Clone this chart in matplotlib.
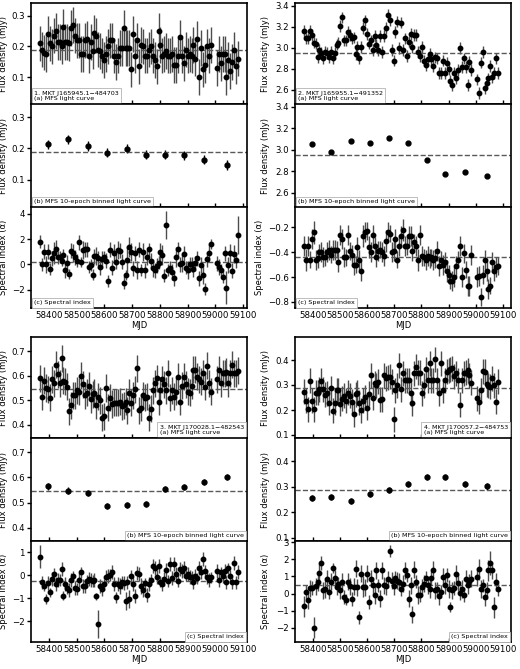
import numpy as np
import matplotlib.pyplot as plt

# observing epochs (MJD), shared by all four sources
mjd = [58368, 58375, 58382, 58389, 58396, 58403, 58410, 58417, 58424, 58431,
       58438, 58445, 58452, 58459, 58466, 58473, 58480, 58487, 58494, 58501,
       58508, 58515, 58522, 58529, 58536, 58543, 58550, 58557, 58564, 58571,
       58578, 58585, 58592, 58599, 58606, 58613, 58620, 58627, 58634, 58641,
       58648, 58655, 58662, 58669, 58676, 58683, 58690, 58697, 58704, 58711,
       58718, 58725, 58732, 58739, 58746, 58753, 58760, 58767, 58774, 58781,
       58788, 58795, 58802, 58809, 58816, 58823, 58830, 58837, 58844, 58851,
       58858, 58865, 58872, 58879, 58886, 58893, 58900, 58907, 58914, 58921,
       58928, 58935, 58942, 58949, 58956, 58963, 58970, 58977, 58984,
       59005, 59012, 59019, 59026, 59033, 59040, 59047, 59054, 59061, 59068, 59075, 59083]

bin_mjd = [58397, 58467, 58540, 58610, 58680, 58749, 58820, 58888, 58960, 59043]

names = ["1. MKT J165945.1\u2212484703", "2. MKT J165955.1\u2212491352",
         "3. MKT J170028.1\u2212482543", "4. MKT J170057.2\u2212484753"]

# ---- source 1
flux1 = [0.21, 0.19, 0.18, 0.175, 0.24, 0.21, 0.2, 0.235, 0.25, 0.215,
         0.215, 0.2, 0.265, 0.215, 0.215, 0.21, 0.26, 0.27, 0.235, 0.22,
         0.22, 0.175, 0.175, 0.22, 0.225, 0.17, 0.215, 0.185, 0.245, 0.235,
         0.19, 0.185, 0.17, 0.155, 0.175, 0.2, 0.22, 0.22, 0.17, 0.15,
         0.17, 0.195, 0.195, 0.26, 0.195, 0.195, 0.195, 0.125, 0.24, 0.17,
         0.22, 0.135, 0.205, 0.2, 0.17, 0.17, 0.19, 0.2, 0.17, 0.155,
         0.135, 0.25, 0.205, 0.17, 0.175, 0.185, 0.17, 0.17, 0.175, 0.14,
         0.14, 0.17, 0.23, 0.17, 0.145, 0.19, 0.17, 0.175, 0.17, 0.205,
         0.16, 0.225, 0.1, 0.195, 0.125, 0.14, 0.2, 0.17, 0.205,
         0.13, 0.175, 0.145, 0.175, 0.175, 0.1, 0.155, 0.12, 0.15, 0.19, 0.135, 0.16]
bin1 = [0.213, 0.229, 0.208, 0.186, 0.199, 0.18, 0.18, 0.178, 0.164, 0.146]
alpha1 = [1.8, 0.0, 1.0, 0.0, 1.0, -0.35, 0.5, 0.9, 1.2, 0.55,
          0.6, 0.3, 0.75, -0.45, 0.15, -0.75, 1.1, 0.9, 0.55, 0.3,
          1.75, 0.2, 1.15, 1.2, 1.2, -0.2, -0.05, -0.8, 0.65, 0.65,
          0.5, -0.2, 0.4, 0.6, 0.3, -1.3, 1.15, -0.25, 0.9, 0.2,
          1.15, 1.1, 0.2, -1.45, -0.85, 0.35, 1.35, 1.0, -0.3, 0.9,
          -0.45, 1.15, -0.45, 1.0, -0.45, 0.55, 1.2, 0.3, -0.3, -0.45,
          -0.1, 0.15, 1.0, 0.75, -0.9, 3.15, -0.45, -0.25, -0.6, -1.1,
          0.6, 1.2, 0.0, 0.1, 0.85, -0.25, -0.45, 0.0, 0.0, -0.4,
          0.1, 0.5, -1.1, -0.05, -0.85, -1.95, 0.4, 0.9, 1.65,
          0.1, -0.2, -0.45, -1.0, 0.9, -1.85, -0.05, 0.9, -0.5, 0.85, 0.35, 2.35]
aerr1 = [0.5, 0.5, 0.6, 0.7, 0.6, 0.5, 0.6, 0.9, 0.7, 0.5,
         0.5, 0.4, 0.5, 0.6, 0.6, 0.4, 0.6, 0.7, 0.6, 0.5,
         0.6, 0.4, 0.7, 0.6, 0.6, 0.5, 0.5, 0.4, 0.6, 0.7,
         0.6, 0.6, 0.7, 0.5, 0.6, 0.5, 0.6, 0.6, 0.7, 0.6,
         0.7, 0.6, 0.6, 0.5, 0.4, 1.1, 0.8, 0.7, 0.6, 0.6,
         0.7, 0.6, 0.5, 0.7, 0.6, 0.6, 0.5, 0.6, 0.7, 0.6,
         0.6, 0.5, 0.7, 0.8, 0.5, 1.1, 0.5, 0.5, 0.6, 0.6,
         0.8, 0.6, 0.6, 0.7, 0.6, 0.5, 0.7, 0.6, 0.6, 0.6,
         0.6, 0.6, 0.6, 0.6, 0.7, 0.5, 0.6, 0.7, 0.4,
         0.6, 0.6, 0.5, 0.5, 0.6, 1.3, 0.6, 0.7, 0.6, 0.7, 0.6, 1.5]

# ---- source 2
flux2 = [3.16, 3.09, 3.09, 3.16, 3.12, 3.05, 3.04, 2.91, 2.98, 2.95,
         2.9, 2.96, 2.95, 2.91, 2.96, 2.9, 2.95, 3.03, 3.05, 3.21,
         3.29, 3.07, 3.07, 3.15, 3.12, 3.09, 3.1, 2.94, 3.01, 2.9,
         3.01, 3.19, 3.26, 3.13, 3.04, 3.07, 2.98, 3.11, 3.03, 2.98,
         3.11, 2.96, 3.11, 3.19, 3.31, 3.26, 2.98, 2.88, 3.15, 3.25,
         3.0, 3.24, 2.98, 3.09, 2.92, 3.06, 3.13, 3.01, 3.12, 3.12,
         2.96, 2.92, 3.01, 2.88, 2.84, 2.89, 2.94, 2.89, 2.83, 2.91,
         2.9, 2.76, 2.76, 2.88, 2.76, 2.86, 2.8, 2.69, 2.65, 2.76,
         2.71, 2.79, 3.0, 2.82, 2.9, 2.82, 2.65, 2.87, 2.79,
         2.7, 2.57, 2.86, 2.96, 2.62, 2.67, 2.71, 2.83, 2.72, 2.76, 2.9, 2.76]
bin2 = [3.055, 2.976, 3.08, 3.067, 3.114, 3.06, 2.9, 2.772, 2.794, 2.753]
alpha2 = [-0.35, -0.46, -0.35, -0.46, -0.29, -0.24, -0.46, -0.45, -0.4, -0.4,
          -0.44, -0.44, -0.4, -0.38, -0.42, -0.38, -0.38, -0.38, -0.48, -0.26,
          -0.29, -0.44, -0.44, -0.26, -0.39, -0.42, -0.5, -0.5, -0.36, -0.46,
          -0.55, -0.27, -0.24, -0.23, -0.36, -0.4, -0.26, -0.35, -0.44, -0.39,
          -0.38, -0.4, -0.43, -0.31, -0.24, -0.25, -0.4, -0.39, -0.29, -0.46,
          -0.35, -0.27, -0.22, -0.35, -0.35, -0.27, -0.27, -0.39, -0.32, -0.35,
          -0.46, -0.26, -0.43, -0.44, -0.46, -0.43, -0.45, -0.44, -0.46, -0.45,
          -0.39, -0.51, -0.46, -0.5, -0.48, -0.55, -0.58, -0.63, -0.63, -0.6,
          -0.51, -0.46, -0.35, -0.6, -0.41, -0.54, -0.67, -0.67, -0.42,
          -0.6, -0.59, -0.76, -0.58, -0.46, -0.55, -0.7, -0.67, -0.48, -0.55, -0.52, -0.51]
aerr2 = [0.08, 0.09, 0.08, 0.07, 0.08, 0.09, 0.08, 0.08, 0.07, 0.08,
         0.08, 0.07, 0.08, 0.08, 0.07, 0.08, 0.08, 0.07, 0.08, 0.08,
         0.08, 0.08, 0.07, 0.08, 0.07, 0.08, 0.08, 0.07, 0.08, 0.08,
         0.08, 0.09, 0.08, 0.07, 0.09, 0.08, 0.08, 0.07, 0.08, 0.08,
         0.07, 0.08, 0.08, 0.09, 0.08, 0.07, 0.08, 0.08, 0.08, 0.07,
         0.08, 0.08, 0.09, 0.08, 0.07, 0.08, 0.08, 0.08, 0.07, 0.08,
         0.09, 0.08, 0.08, 0.07, 0.08, 0.08, 0.08, 0.07, 0.08, 0.08,
         0.08, 0.08, 0.07, 0.08, 0.08, 0.09, 0.08, 0.07, 0.08, 0.08,
         0.08, 0.07, 0.08, 0.08, 0.08, 0.07, 0.08, 0.08, 0.08,
         0.08, 0.08, 0.07, 0.08, 0.08, 0.08, 0.08, 0.07, 0.08, 0.08, 0.08, 0.07]

# ---- source 3
flux3 = [0.59, 0.515, 0.58, 0.55, 0.545, 0.51, 0.585, 0.57, 0.645, 0.605,
         0.57, 0.67, 0.58, 0.575, 0.555, 0.455, 0.48, 0.52, 0.52, 0.54,
         0.535, 0.6, 0.565, 0.52, 0.53, 0.56, 0.505, 0.525, 0.53, 0.48,
         0.515, 0.5, 0.43, 0.435, 0.55, 0.47, 0.51, 0.485, 0.49, 0.49,
         0.49, 0.495, 0.475, 0.48, 0.495, 0.46, 0.53, 0.49, 0.52, 0.545,
         0.63, 0.46, 0.47, 0.52, 0.51, 0.515, 0.43, 0.465, 0.54, 0.57,
         0.59, 0.495, 0.54, 0.585, 0.565, 0.54, 0.61, 0.51, 0.54, 0.515,
         0.535, 0.595, 0.495, 0.56, 0.595, 0.565, 0.535, 0.53, 0.56, 0.625,
         0.625, 0.595, 0.585, 0.575, 0.61, 0.555, 0.64, 0.57, 0.535,
         0.585, 0.625, 0.57, 0.61, 0.61, 0.615, 0.57, 0.61, 0.645, 0.61, 0.61, 0.62]
bin3 = [0.564, 0.548, 0.537, 0.488, 0.492, 0.493, 0.555, 0.561, 0.583, 0.602]
alpha3 = [0.8, -0.32, -0.46, -1.04, -0.35, -0.75, -0.17, 0.05, -0.4, -0.2,
          -0.22, 0.26, -0.9, -0.4, -0.58, -0.64, -0.22, -0.06, -0.57, -0.61,
          -0.2, 0.12, -0.49, -0.46, -0.25, -0.17, -0.22, -0.25, -0.2, -0.93,
          -2.13, -0.46, -0.61, -0.4, -0.1, -0.03, 0.0, 0.14, -0.4, -0.97,
          -0.4, -0.46, -0.32, -0.36, -1.12, -0.32, -1.04, -0.06, -0.4, -0.9,
          0.09, 0.05, -0.46, -0.65, -0.36, -0.87, -0.4, -0.2, 0.41, 0.29,
          -0.1, 0.38, -0.29, -0.4, -0.17, 0.22, -0.25, 0.48, -0.14, 0.48,
          0.05, -0.25, 0.26, 0.19, 0.29, -0.03, 0.05, -0.1, -0.07, -0.29,
          -0.03, -0.14, 0.29, 0.14, 0.7, 0.19, -0.1, -0.2, -0.1,
          0.19, -0.2, 0.12, -0.03, 0.19, -0.32, 0.29, -0.06, -0.32, 0.52, -0.32, 0.12]
aerr3 = [0.5, 0.3, 0.25, 0.2, 0.3, 0.2, 0.3, 0.25, 0.3, 0.3,
         0.25, 0.3, 0.2, 0.3, 0.25, 0.3, 0.3, 0.25, 0.3, 0.25,
         0.3, 0.25, 0.3, 0.3, 0.25, 0.3, 0.3, 0.25, 0.3, 0.15,
         0.6, 0.3, 0.3, 0.25, 0.3, 0.3, 0.25, 0.3, 0.3, 0.25,
         0.3, 0.35, 0.3, 0.3, 0.4, 0.3, 0.4, 0.3, 0.3, 0.3,
         0.3, 0.3, 0.35, 0.3, 0.25, 0.3, 0.3, 0.25, 0.3, 0.3,
         0.3, 0.3, 0.25, 0.3, 0.3, 0.3, 0.25, 0.3, 0.3, 0.3,
         0.3, 0.25, 0.3, 0.3, 0.3, 0.25, 0.3, 0.3, 0.25, 0.3,
         0.3, 0.25, 0.3, 0.3, 0.3, 0.25, 0.3, 0.3, 0.25,
         0.3, 0.3, 0.25, 0.3, 0.3, 0.3, 0.25, 0.3, 0.3, 0.3, 0.3, 0.3]

# ---- source 4
flux4 = [0.274, 0.238, 0.204, 0.317, 0.238, 0.204, 0.27, 0.27, 0.283, 0.318,
         0.283, 0.261, 0.268, 0.23, 0.287, 0.197, 0.23, 0.28, 0.28, 0.225,
         0.245, 0.257, 0.237, 0.27, 0.257, 0.234, 0.184, 0.264, 0.27, 0.23,
         0.2, 0.238, 0.252, 0.21, 0.265, 0.34, 0.25, 0.307, 0.3, 0.314,
         0.241, 0.244, 0.34, 0.327, 0.331, 0.334, 0.314, 0.164, 0.28, 0.3,
         0.38, 0.283, 0.347, 0.32, 0.32, 0.32, 0.268, 0.228, 0.347, 0.374,
         0.35, 0.35, 0.268, 0.3, 0.363, 0.32, 0.387, 0.32, 0.32, 0.403,
         0.32, 0.268, 0.387, 0.28, 0.32, 0.354, 0.36, 0.363, 0.367, 0.336,
         0.347, 0.32, 0.221, 0.32, 0.347, 0.35, 0.36, 0.34, 0.31,
         0.248, 0.234, 0.28, 0.356, 0.354, 0.303, 0.297, 0.294, 0.327, 0.3, 0.234, 0.314]
bin4 = [0.256, 0.261, 0.245, 0.273, 0.287, 0.313, 0.339, 0.338, 0.312, 0.302]
alpha4 = [-0.75, 0.08, -0.37, 0.31, 0.31, -1.98, 0.43, 0.67, 1.22, 1.8,
          0.18, 0.27, 0.86, 0.08, 0.7, 1.49, 0.9, 0.41, 0.57, 0.18,
          0.7, -0.22, -0.35, 0.7, 0.43, -0.31, 0.41, 1.45, 0.37, -1.39,
          1.16, 0.41, 0.37, 1.16, -0.51, 0.86, 0.47, -0.08, 1.35, 0.47,
          -0.27, 1.35, 0.47, 0.43, 0.82, 2.49, 0.76, 0.43, 0.9, 0.76,
          0.7, 0.27, 0.57, 1.35, 1.06, -0.31, 0.47, -1.2, 1.39, 0.7,
          -0.08, -0.08, 0.37, 0.57, 0.9, 0.47, 0.27, 0.9, 1.39, 0.18,
          0.27, -0.16, 0.12, 0.96, 0.47, 1.1, 0.27, -0.8, 0.18, 0.31,
          1.16, 0.63, 0.04, 0.27, -0.08, 0.86, 0.47, 0.76, 0.86,
          0.96, 1.41, 0.27, 0.47, -0.22, 0.18, 1.35, 1.8, 1.35, -0.8, 0.67, 0.24]
aerr4 = [0.6, 0.4, 0.5, 0.5, 0.4, 0.6, 0.5, 0.5, 0.5, 0.4,
         0.5, 0.5, 0.5, 0.4, 0.5, 0.3, 0.5, 0.5, 0.4, 0.5,
         0.5, 0.4, 0.3, 0.5, 0.5, 0.4, 0.5, 0.5, 0.5, 0.4,
         0.5, 0.6, 0.5, 0.5, 0.4, 0.5, 0.5, 0.5, 0.5, 0.4,
         0.5, 0.5, 0.5, 0.5, 0.5, 0.35, 0.5, 0.5, 0.4, 0.5,
         0.5, 0.4, 0.5, 0.5, 0.4, 0.5, 0.5, 0.5, 0.5, 0.4,
         0.5, 0.4, 0.5, 0.5, 0.4, 0.5, 0.5, 0.4, 0.5, 0.5,
         0.4, 0.5, 0.4, 0.5, 0.5, 0.4, 0.5, 0.3, 0.5, 0.4,
         0.5, 0.5, 0.4, 0.5, 0.4, 0.5, 0.5, 0.4, 0.5,
         0.5, 0.6, 0.5, 0.4, 0.5, 0.5, 0.6, 0.7, 0.5, 0.6, 0.5, 0.4]

fluxes = [flux1, flux2, flux3, flux4]
flux_err = [0.058, 0.055, 0.055, 0.05]
bins = [bin1, bin2, bin3, bin4]
bin_err = [0.015, 0.008, 0.012, 0.012]
alphas = [alpha1, alpha2, alpha3, alpha4]
alpha_errs = [aerr1, aerr2, aerr3, aerr4]
flux_mean = [0.187, 2.951, 0.545, 0.29]
alpha_mean = [0.18, -0.44, -0.25, 0.5]

flux_lim = [(0.012, 0.342), (2.467, 3.426), (0.347, 0.757), (0.088, 0.492)]
flux_ticks = [[0.1, 0.2, 0.3], [2.6, 2.8, 3.0, 3.2, 3.4], [0.4, 0.5, 0.6, 0.7], [0.1, 0.2, 0.3, 0.4]]
alpha_lim = [(-3.45, 4.55), (-0.85, -0.035), (-2.91, 1.48), (-2.82, 3.06)]
alpha_ticks = [[-2, 0, 2, 4], [-0.8, -0.6, -0.4, -0.2], [-2, -1, 0, 1], [-2, -1, 0, 1, 2, 3]]

W, H = 520.0, 669.0
col_x = [(31, 216, 58335, 59114), (295, 216, 58334, 59130)]
block_top = [3, 337]
row_h = [101, 103, 101]
# where the y labels sit (axes fraction), flux rows then spectral index row
label_x = [(-0.108, -0.108), (-0.115, -0.145), (-0.108, -0.108), (-0.115, -0.115)]

fig = plt.figure(figsize=(5.2, 6.69), dpi=100)


def rect(l, t, w, h):
    return [l / W, 1 - (t + h) / H, w / W, h / H]


def tag(ax, txt, right):
    if right:
        ax.text(0.985, 0.025, txt, transform=ax.transAxes, ha='right', va='bottom',
                multialignment='left', fontsize=4.6, zorder=10,
                bbox=dict(boxstyle='square,pad=0.35', fc='white', ec='0.7', lw=0.6))
    else:
        ax.text(0.015, 0.025, txt, transform=ax.transAxes, ha='left', va='bottom',
                fontsize=4.6, zorder=10,
                bbox=dict(boxstyle='square,pad=0.35', fc='white', ec='0.7', lw=0.6))


for k in range(4):
    cx = col_x[k % 2]
    top = block_top[k // 2]
    right = k >= 2
    tops = [top, top + row_h[0], top + row_h[0] + row_h[1]]
    axs = [fig.add_axes(rect(cx[0], tops[r], cx[1], row_h[r])) for r in range(3)]

    a, b, c = axs
    a.errorbar(mjd, fluxes[k], yerr=flux_err[k], fmt='o', color='k', ecolor='0.3',
               ms=3.2, elinewidth=1.0, capsize=0)
    a.axhline(flux_mean[k], color='0.35', ls='--', lw=1.0)
    a.set_ylim(flux_lim[k])
    a.set_yticks(flux_ticks[k])
    a.set_ylabel('Flux density (mJy)', fontsize=6)
    tag(a, names[k] + '\n(a) MFS light curve', right)

    b.errorbar(bin_mjd, bins[k], yerr=bin_err[k], fmt='o', color='k', ecolor='k',
               ms=3.5, elinewidth=1.0, capsize=0)
    b.axhline(flux_mean[k], color='0.35', ls='--', lw=1.0)
    b.set_ylim(flux_lim[k])
    b.set_yticks(flux_ticks[k])
    b.set_ylabel('Flux density (mJy)', fontsize=6)
    tag(b, '(b) MFS 10-epoch binned light curve', right)

    c.errorbar(mjd, alphas[k], yerr=alpha_errs[k], fmt='o', color='k', ecolor='0.3',
               ms=3.2, elinewidth=1.0, capsize=0)
    c.axhline(alpha_mean[k], color='0.35', ls='--', lw=1.0)
    c.set_ylim(alpha_lim[k])
    c.set_yticks(alpha_ticks[k])
    c.set_ylabel('Spectral index (\u03b1)', fontsize=6)
    c.set_xlabel('MJD', fontsize=6, labelpad=1)
    tag(c, '(c) Spectral index', right)

    for ax in axs:
        ax.set_xlim(cx[2], cx[3])
        ax.set_xticks(np.arange(58400, 59101, 100))
        ax.tick_params(axis='x', direction='in', length=3, width=1, labelsize=6.2, pad=2)
        ax.tick_params(axis='y', direction='out', length=3, width=1, labelsize=6.2, pad=1.5)
        for s in ax.spines.values():
            s.set_linewidth(1.2)
    a.yaxis.set_label_coords(label_x[k][0], 0.5)
    b.yaxis.set_label_coords(label_x[k][0], 0.5)
    c.yaxis.set_label_coords(label_x[k][1], 0.5)
    a.tick_params(labelbottom=False)
    b.tick_params(labelbottom=False)

fig.savefig('out.png', dpi=100)
